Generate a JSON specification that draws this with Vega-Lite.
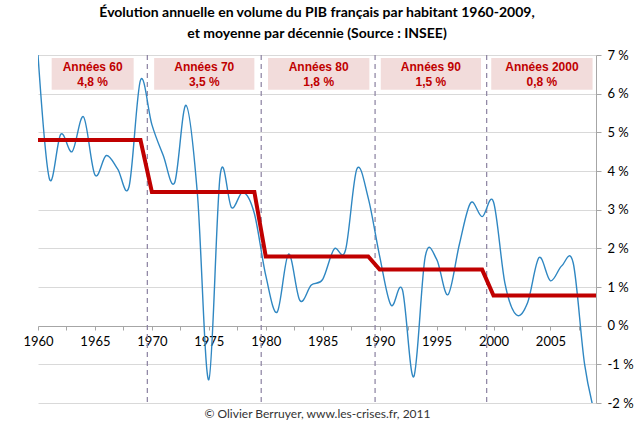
{
  "$schema": "https://vega.github.io/schema/vega-lite/v6.json",
  "width": 558,
  "height": 348,
  "autosize": {"type": "none"},
  "padding": {"left": 38, "top": 55, "right": 44, "bottom": 27},
  "background": "white",
  "config": {"view": {"stroke": null}, "font": "Lato"},
  "title": {
    "text": ["Évolution annuelle en volume du PIB français par habitant 1960-2009,", "et moyenne par décennie (Source : INSEE)"],
    "anchor": "middle",
    "frame": "group",
    "font": "Lato",
    "fontSize": 14,
    "fontWeight": "bold",
    "color": "#000000",
    "lineHeight": 21,
    "offset": 8
  },
  "datasets": {
    "pib": [
      {"annee": 1960, "croissance": 7.0, "moyenne": 4.8},
      {"annee": 1961, "croissance": 3.8, "moyenne": 4.8},
      {"annee": 1962, "croissance": 4.95, "moyenne": 4.8},
      {"annee": 1963, "croissance": 4.5, "moyenne": 4.8},
      {"annee": 1964, "croissance": 5.4, "moyenne": 4.8},
      {"annee": 1965, "croissance": 3.9, "moyenne": 4.8},
      {"annee": 1966, "croissance": 4.4, "moyenne": 4.8},
      {"annee": 1967, "croissance": 4.05, "moyenne": 4.8},
      {"annee": 1968, "croissance": 3.6, "moyenne": 4.8},
      {"annee": 1969, "croissance": 6.35, "moyenne": 4.8},
      {"annee": 1970, "croissance": 5.2, "moyenne": 3.46},
      {"annee": 1971, "croissance": 4.4, "moyenne": 3.46},
      {"annee": 1972, "croissance": 3.7, "moyenne": 3.46},
      {"annee": 1973, "croissance": 5.7, "moyenne": 3.46},
      {"annee": 1974, "croissance": 3.4, "moyenne": 3.46},
      {"annee": 1975, "croissance": -1.4, "moyenne": 3.46},
      {"annee": 1976, "croissance": 3.9, "moyenne": 3.46},
      {"annee": 1977, "croissance": 3.05, "moyenne": 3.46},
      {"annee": 1978, "croissance": 3.45, "moyenne": 3.46},
      {"annee": 1979, "croissance": 2.9, "moyenne": 3.46},
      {"annee": 1980, "croissance": 1.3, "moyenne": 1.79},
      {"annee": 1981, "croissance": 0.35, "moyenne": 1.79},
      {"annee": 1982, "croissance": 1.85, "moyenne": 1.79},
      {"annee": 1983, "croissance": 0.65, "moyenne": 1.79},
      {"annee": 1984, "croissance": 1.05, "moyenne": 1.79},
      {"annee": 1985, "croissance": 1.2, "moyenne": 1.79},
      {"annee": 1986, "croissance": 1.98, "moyenne": 1.79},
      {"annee": 1987, "croissance": 1.95, "moyenne": 1.79},
      {"annee": 1988, "croissance": 4.05, "moyenne": 1.79},
      {"annee": 1989, "croissance": 3.3, "moyenne": 1.79},
      {"annee": 1990, "croissance": 1.8, "moyenne": 1.45},
      {"annee": 1991, "croissance": 0.53, "moyenne": 1.45},
      {"annee": 1992, "croissance": 0.93, "moyenne": 1.45},
      {"annee": 1993, "croissance": -1.32, "moyenne": 1.45},
      {"annee": 1994, "croissance": 1.78, "moyenne": 1.45},
      {"annee": 1995, "croissance": 1.72, "moyenne": 1.45},
      {"annee": 1996, "croissance": 0.8, "moyenne": 1.45},
      {"annee": 1997, "croissance": 2.1, "moyenne": 1.45},
      {"annee": 1998, "croissance": 3.18, "moyenne": 1.45},
      {"annee": 1999, "croissance": 2.82, "moyenne": 1.45},
      {"annee": 2000, "croissance": 3.2, "moyenne": 0.78},
      {"annee": 2001, "croissance": 1.1, "moyenne": 0.78},
      {"annee": 2002, "croissance": 0.28, "moyenne": 0.78},
      {"annee": 2003, "croissance": 0.6, "moyenne": 0.78},
      {"annee": 2004, "croissance": 1.76, "moyenne": 0.78},
      {"annee": 2005, "croissance": 1.16, "moyenne": 0.78},
      {"annee": 2006, "croissance": 1.55, "moyenne": 0.78},
      {"annee": 2007, "croissance": 1.62, "moyenne": 0.78},
      {"annee": 2008, "croissance": -1.0, "moyenne": 0.78},
      {"annee": 2009, "croissance": -2.4, "moyenne": 0.78}
    ],
    "decennies": [
      {"debut": 1961.2, "fin": 1968.4, "libelle": "Années 60", "valeur": "4,8 %"},
      {"debut": 1970.2, "fin": 1979.0, "libelle": "Années 70", "valeur": "3,5 %"},
      {"debut": 1980.2, "fin": 1989.1, "libelle": "Années 80", "valeur": "1,8 %"},
      {"debut": 1990.1, "fin": 1998.9, "libelle": "Années 90", "valeur": "1,5 %"},
      {"debut": 1999.8, "fin": 2008.7, "libelle": "Années 2000", "valeur": "0,8 %"}
    ],
    "separations": [
      {"annee": 1969.6},
      {"annee": 1979.6},
      {"annee": 1989.6},
      {"annee": 1999.4}
    ]
  },
  "layer": [
    {
      "data": {"name": "separations"},
      "mark": {"type": "rule", "color": "#8a80a0", "strokeWidth": 1.2, "strokeDash": [5, 4]},
      "encoding": {
        "x": {
          "field": "annee", "type": "quantitative",
          "scale": {"domain": [1960, 2009], "nice": false, "zero": false},
          "axis": {
            "orient": "bottom", "labels": false, "ticks": false, "domain": false, "grid": false,
            "title": "© Olivier Berruyer, www.les-crises.fr,  2011",
            "titleFont": "Lato", "titleFontSize": 12, "titleFontWeight": "normal",
            "titleColor": "#333333", "titlePadding": 5
          }
        }
      }
    },
    {
      "data": {"name": "decennies"},
      "mark": {"type": "rect", "color": "#f2dcdb"},
      "encoding": {
        "x": {"field": "debut", "type": "quantitative", "scale": {"domain": [1960, 2009], "nice": false, "zero": false}, "axis": null},
        "x2": {"field": "fin"},
        "y": {"datum": 6.92, "type": "quantitative", "scale": {"domain": [-2, 7], "nice": false}, "axis": null},
        "y2": {"datum": 6.1}
      }
    },
    {
      "data": {"name": "decennies"},
      "transform": [{"calculate": "(datum.debut + datum.fin) / 2", "as": "centre"}],
      "mark": {"type": "text", "font": "Liberation Sans", "fontSize": 12, "fontWeight": "bold", "color": "#c00000", "baseline": "middle"},
      "encoding": {
        "x": {"field": "centre", "type": "quantitative", "scale": {"domain": [1960, 2009], "nice": false, "zero": false}, "axis": null},
        "y": {"datum": 6.68, "type": "quantitative", "scale": {"domain": [-2, 7], "nice": false}, "axis": null},
        "text": {"field": "libelle"}
      }
    },
    {
      "data": {"name": "decennies"},
      "transform": [{"calculate": "(datum.debut + datum.fin) / 2", "as": "centre"}],
      "mark": {"type": "text", "font": "Liberation Sans", "fontSize": 12, "fontWeight": "bold", "color": "#c00000", "baseline": "middle"},
      "encoding": {
        "x": {"field": "centre", "type": "quantitative", "scale": {"domain": [1960, 2009], "nice": false, "zero": false}, "axis": null},
        "y": {"datum": 6.31, "type": "quantitative", "scale": {"domain": [-2, 7], "nice": false}, "axis": null},
        "text": {"field": "valeur"}
      }
    },
    {
      "data": {"name": "pib"},
      "mark": {"type": "line", "color": "#2f87c2", "strokeWidth": 1.4, "interpolate": "cardinal", "clip": true},
      "encoding": {
        "x": {
          "field": "annee", "type": "quantitative",
          "scale": {"domain": [1960, 2009], "nice": false, "zero": false},
          "axis": {
            "orient": "bottom", "offset": -77, "title": null, "grid": false,
            "values": [1960, 1962.5, 1965, 1967.5, 1970, 1972.5, 1975, 1977.5, 1980, 1982.5, 1985, 1987.5, 1990, 1992.5, 1995, 1997.5, 2000, 2002.5, 2005, 2007.5],
            "labelExpr": "datum.value % 5 === 0 ? toString(datum.value) : ''",
            "labelFont": "Lato", "labelFontSize": 13, "labelColor": "#000000",
            "labelPadding": 5, "tickSize": 4, "tickColor": "#a6a6a6",
            "domainColor": "#a6a6a6", "labelOverlap": false, "labelFlush": false
          }
        },
        "y": {
          "field": "croissance", "type": "quantitative",
          "scale": {"domain": [-2, 7], "nice": false},
          "axis": {
            "orient": "right", "title": null,
            "values": [-2, -1, 0, 1, 2, 3, 4, 5, 6, 7],
            "labelExpr": "datum.value + ' %'",
            "labelFont": "Lato", "labelFontSize": 13, "labelColor": "#000000",
            "labelPadding": 6, "tickSize": 5, "tickColor": "#a6a6a6",
            "domainColor": "#a6a6a6", "labelFlush": false,
            "grid": true, "gridColor": "#d9d9d9"
          }
        }
      }
    },
    {
      "data": {"name": "pib"},
      "mark": {"type": "line", "color": "#c00000", "strokeWidth": 4},
      "encoding": {
        "x": {"field": "annee", "type": "quantitative", "scale": {"domain": [1960, 2009], "nice": false, "zero": false}, "axis": null},
        "y": {"field": "moyenne", "type": "quantitative", "scale": {"domain": [-2, 7], "nice": false}, "axis": null}
      }
    }
  ],
  "resolve": {"axis": {"x": "independent", "y": "independent"}}
}
